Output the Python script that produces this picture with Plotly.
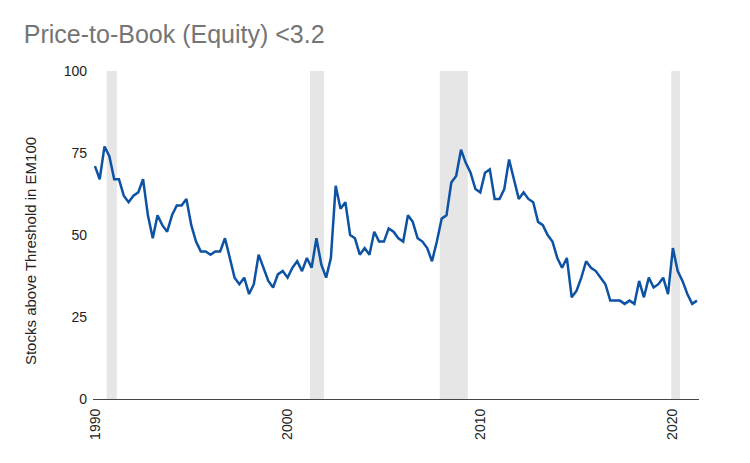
import pandas as pd
import plotly.graph_objects as go

# quarterly readings, 1990 Q1 .. 2021 Q2
dates = pd.date_range("1990-01-01", periods=126, freq="QS")
values = [
    71, 67, 77, 74, 67, 67, 62, 60, 62, 63, 67, 56, 49, 56, 53, 51, 56, 59, 59, 61,
    53, 48, 45, 45, 44, 45, 45, 49, 43, 37, 35, 37, 32, 35, 44, 40, 36, 34, 38, 39,
    37, 40, 42, 39, 43, 40, 49, 41, 37, 43, 65, 58, 60, 50, 49, 44, 46, 44, 51, 48,
    48, 52, 51, 49, 48, 56, 54, 49, 48, 46, 42, 48, 55, 56, 66, 68, 76, 72, 69, 64,
    63, 69, 70, 61, 61, 64, 73, 67, 61, 63, 61, 60, 54, 53, 50, 48, 43, 40, 43, 31,
    33, 37, 42, 40, 39, 37, 35, 30, 30, 30, 29, 30, 29, 36, 31, 37, 34, 35, 37, 32,
    46, 39, 36, 32, 29, 30,
]

# recession periods (shaded)
rec_start = ["1990-08-10", "2001-03-01", "2007-11-25", "2019-12-01"]
rec_end = ["1991-02-20", "2001-11-20", "2009-05-10", "2020-05-15"]

y_ticks = [0, 25, 50, 75, 100]
x_ticks = ["1990-01-01", "2000-01-01", "2010-01-01", "2020-01-01"]
x_labels = ["1990", "2000", "2010", "2020"]

fig = go.Figure()

for s, e in zip(rec_start, rec_end):
    fig.add_shape(type="rect", xref="x", yref="y", x0=s, x1=e, y0=0, y1=100,
                  fillcolor="#e6e6e6", line=dict(width=0), layer="below")

fig.add_trace(go.Scatter(x=dates, y=values, mode="lines",
                         line=dict(color="#0d52a3", width=2.5), showlegend=False))

# y title as an annotation: it sits a little below the plot's middle
fig.add_annotation(text="Stocks above Threshold in EM100", textangle=-90,
                   xref="paper", yref="paper", x=-0.104, y=0.451,
                   xanchor="center", yanchor="middle", showarrow=False,
                   font=dict(size=15, color="#222222"))

# page body adds an 8px offset, so margins are shifted to compensate
fig.update_layout(
    width=750, height=463,
    margin=dict(l=85, r=59, t=63, b=72),
    plot_bgcolor="white", paper_bgcolor="white",
    font=dict(family="Liberation Sans, Arial, sans-serif", size=14, color="#222222"),
    title=dict(text="Price-to-Book (Equity) <3.2", x=0.021, xanchor="left",
               y=0.944, yanchor="middle",
               font=dict(size=25, color="#757575")),
    xaxis=dict(range=["1989-11-25", "2021-05-10"], showgrid=False, zeroline=False,
               showline=True, linecolor="#444444", linewidth=1.3,
               tickmode="array", tickvals=x_ticks, ticktext=x_labels,
               tickangle=-90, ticks="", ticklabelstandoff=3,
               tickfont=dict(size=14)),
    yaxis=dict(range=[0, 100], showgrid=False, zeroline=False, showline=False,
               tickmode="array", tickvals=y_ticks, ticks="",
               ticklabelstandoff=5, tickfont=dict(size=14)),
)

fig.write_html("out.html")
